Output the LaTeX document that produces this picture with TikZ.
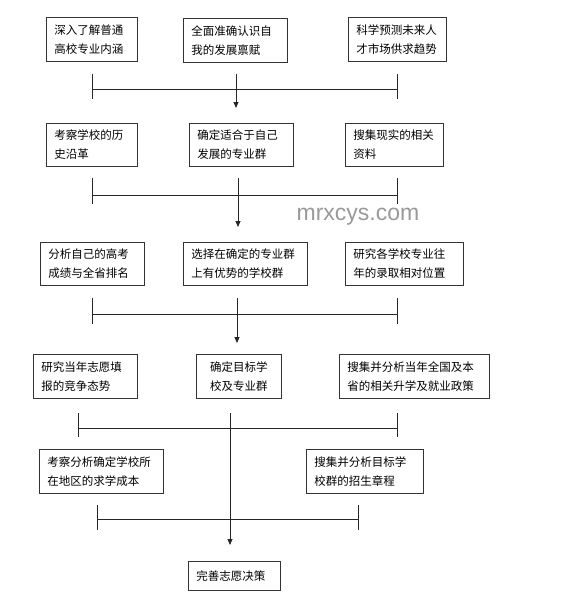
\documentclass[tikz,border=0pt]{standalone}
\usepackage{fontspec}
\setmainfont{Noto Sans CJK SC}
\newfontfamily\markfont{Liberation Sans}
\usetikzlibrary{shapes,arrows,arrows.meta,positioning}

\begin{document}
\begin{tikzpicture}[x=1pt, y=-1pt, font=\fontsize{11.5}{19}\selectfont]
    % Define styles
    \tikzstyle{task} = [rectangle, draw=black!80, line width=0.8pt, anchor=north west, align=left, inner xsep=8pt, inner ysep=0pt, minimum height=44pt]
    \tikzstyle{line} = [draw=black!85, line width=0.8pt]
    \tikzstyle{arrow} = [line, ->, >={Triangle[length=6pt, width=5pt]}]

    \useasboundingbox (0,0) rectangle (579,600);

    % Row 1
    \node [task, text width=75pt] (major) at (46,17) {深入了解普通\\高校专业内涵};
    \node [task, text width=88pt] (self) at (183,18) {全面准确认识自\\我的发展禀赋};
    \node [task, text width=82pt] (market) at (348,17) {科学预测未来人\\才市场供求趋势};

    % Row 2
    \node [task, text width=75pt, minimum height=43pt] (history) at (46,123) {考察学校的历\\史沿革};
    \node [task, text width=88pt, minimum height=43pt] (group) at (189,123) {确定适合于自己\\发展的专业群};
    \node [task, text width=82pt, minimum height=43pt] (data) at (345,123) {搜集现实的相关\\资料};

    % Row 3
    \node [task, text width=88pt, minimum height=43pt] (score) at (40,242) {分析自己的高考\\成绩与全省排名};
    \node [task, text width=108pt, minimum height=43pt] (schools) at (183,242) {选择在确定的专业群\\上有优势的学校群};
    \node [task, text width=102pt, minimum height=43pt] (rank) at (345,242) {研究各学校专业往\\年的录取相对位置};

    % Row 4
    \node [task, text width=88pt] (compete) at (33,354) {研究当年志愿填\\报的竞争态势};
    \node [task, text width=69pt, align=center] (target) at (196,354) {确定目标学\\校及专业群};
    \node [task, text width=134pt] (policy) at (339,354) {搜集并分析当年全国及本\\省的相关升学及就业政策};

    % Row 5
    \node [task, text width=108pt] (cost) at (39,449) {考察分析确定学校所\\在地区的求学成本};
    \node [task, text width=101pt] (rules) at (306,449) {搜集并分析目标学\\校群的招生章程};

    % Result
    \node [task, text width=76pt, minimum height=29pt] (decide) at (188,561) {完善志愿决策};

    % Watermark
    \node [text=black!40, font=\markfont\fontsize{23}{23}\selectfont] (mark) at (358,217) {mrxcys.com};

    % Joins below row 1
    \coordinate (l1) at (92,89);
    \coordinate (r1) at (397,89);
    \coordinate (m1) at (236,74);
    \coordinate (e1) at (236,108);
    \draw [line] (l1) -- (r1);
    \draw [line] ([yshift=15pt]l1) -- ([yshift=-10pt]l1);
    \draw [line] ([yshift=15pt]r1) -- ([yshift=-10pt]r1);
    \draw [arrow] (m1) -- (e1);

    % Joins below row 2
    \coordinate (l2) at (92,195);
    \coordinate (r2) at (397,195);
    \coordinate (m2) at (238,178);
    \coordinate (e2) at (238,227);
    \draw [line] (l2) -- (r2);
    \draw [line] ([yshift=17pt]l2) -- ([yshift=-9pt]l2);
    \draw [line] ([yshift=17pt]r2) -- ([yshift=-9pt]r2);
    \draw [arrow] (m2) -- (e2);

    % Joins below row 3
    \coordinate (l3) at (92,314);
    \coordinate (r3) at (397,314);
    \coordinate (m3) at (237,298);
    \coordinate (e3) at (237,343);
    \draw [line] (l3) -- (r3);
    \draw [line] ([yshift=16pt]l3) -- ([yshift=-10pt]l3);
    \draw [line] ([yshift=16pt]r3) -- ([yshift=-10pt]r3);
    \draw [arrow] (m3) -- (e3);

    % Joins below row 4, main line runs on to the result
    \coordinate (l4) at (78,428);
    \coordinate (r4) at (397,428);
    \coordinate (m4) at (230,413);
    \coordinate (e4) at (230,545);
    \draw [line] (l4) -- (r4);
    \draw [line] ([yshift=15pt]l4) -- ([yshift=-9pt]l4);
    \draw [line] ([yshift=15pt]r4) -- ([yshift=-9pt]r4);
    \draw [arrow] (m4) -- (e4);

    % Joins below row 5
    \coordinate (l5) at (97,519);
    \coordinate (r5) at (358,519);
    \draw [line] (l5) -- (r5);
    \draw [line] ([yshift=14pt]l5) -- ([yshift=-11pt]l5);
    \draw [line] ([yshift=14pt]r5) -- ([yshift=-11pt]r5);
\end{tikzpicture}
\end{document}
